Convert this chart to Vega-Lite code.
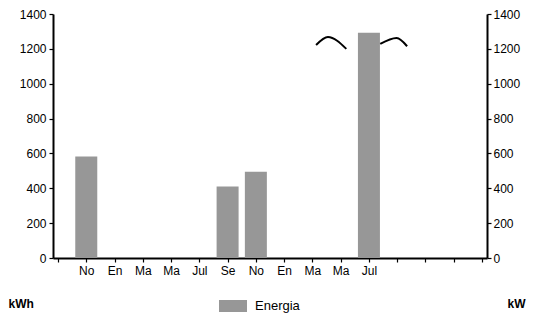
{
  "$schema": "https://vega.github.io/schema/vega-lite/v6.json",
  "autosize": {"type": "none"},
  "width": 434,
  "height": 244,
  "padding": {"left": 53, "top": 14, "right": 55, "bottom": 57},
  "background": "white",
  "config": {
    "font": "Liberation Sans",
    "view": {"stroke": null},
    "axis": {"grid": false, "domainColor": "black", "tickColor": "black", "labelColor": "black", "labelFont": "Liberation Sans", "labelFontSize": 12, "domainWidth": 2, "tickWidth": 1.2, "tickSize": 4, "titleColor": "black", "titleFont": "Liberation Sans", "titleFontSize": 12, "titleFontWeight": "bold", "labelOverlap": false},
    "axisX": {"labelOverlap": false}
  },
  "datasets": {
    "energia": [
      {"idx": 1, "mes": "No", "kwh": 582, "serie": "Energia"},
      {"idx": 6, "mes": "Se", "kwh": 410, "serie": "Energia"},
      {"idx": 7, "mes": "No", "kwh": 495, "serie": "Energia"},
      {"idx": 11, "mes": "Jul", "kwh": 1292, "serie": "Energia"}
    ],
    "potencia": [
      {"pos": 9.13, "kw": 1222, "tramo": "a"},
      {"pos": 9.55, "kw": 1268, "tramo": "a"},
      {"pos": 10.2, "kw": 1200, "tramo": "a"},
      {"pos": 11.4, "kw": 1228, "tramo": "b"},
      {"pos": 11.98, "kw": 1262, "tramo": "b"},
      {"pos": 12.35, "kw": 1215, "tramo": "b"}
    ]
  },
  "layer": [
    {
      "data": {"name": "energia"},
      "mark": {"type": "bar", "size": 22},
      "encoding": {
        "x": {
          "field": "idx", "type": "quantitative",
          "scale": {"domain": [0, 15], "nice": false, "zero": false},
          "axis": {
            "title": null,
            "values": [0, 1, 2, 3, 4, 5, 6, 7, 8, 9, 10, 11, 12, 13, 14, 15],
            "labelExpr": "['','No','En','Ma','Ma','Jul','Se','No','En','Ma','Ma','Jul','','','',''][datum.value]",
            "labelPadding": 3,
            "labelFlush": false,
            "labelOverlap": false,
            "labelBound": false
          }
        },
        "y": {
          "field": "kwh", "type": "quantitative",
          "scale": {"domain": [0, 1400], "nice": false},
          "axis": {
            "orient": "left",
            "values": [0, 200, 400, 600, 800, 1000, 1200, 1400],
            "format": "d",
            "title": "kWh",
            "titleAngle": 0,
            "titleAlign": "left",
            "titleBaseline": "middle",
            "titleX": -45,
            "titleY": 289,
            "labelPadding": 3
          }
        },
        "color": {
          "field": "serie", "type": "nominal",
          "scale": {"range": ["#979797"]},
          "legend": {
            "title": null,
            "orient": "none",
            "legendX": 166,
            "legendY": 278,
            "symbolType": "M-1,-0.43H1V0.43H-1Z",
            "symbolSize": 784,
            "symbolStrokeWidth": 0,
            "labelFontSize": 13,
            "labelColor": "black",
            "labelOffset": 8
          }
        }
      }
    },
    {
      "data": {"name": "potencia"},
      "mark": {"type": "line", "color": "black", "strokeWidth": 2, "interpolate": "monotone"},
      "encoding": {
        "x": {
          "field": "pos", "type": "quantitative",
          "axis": {
            "title": null,
            "values": [0, 1, 2, 3, 4, 5, 6, 7, 8, 9, 10, 11, 12, 13, 14, 15],
            "labelExpr": "['','No','En','Ma','Ma','Jul','Se','No','En','Ma','Ma','Jul','','','',''][datum.value]",
            "labelPadding": 3,
            "labelFlush": false,
            "labelOverlap": false,
            "labelBound": false
          }
        },
        "y": {
          "field": "kw", "type": "quantitative",
          "scale": {"domain": [0, 1400], "nice": false},
          "axis": {
            "orient": "right",
            "values": [0, 200, 400, 600, 800, 1000, 1200, 1400],
            "format": "d",
            "title": "kW",
            "titleAngle": 0,
            "titleAlign": "left",
            "titleBaseline": "middle",
            "titleX": 20,
            "titleY": 289,
            "labelPadding": 2
          }
        },
        "detail": {"field": "tramo", "type": "nominal"}
      }
    }
  ],
  "resolve": {"scale": {"y": "independent"}}
}
